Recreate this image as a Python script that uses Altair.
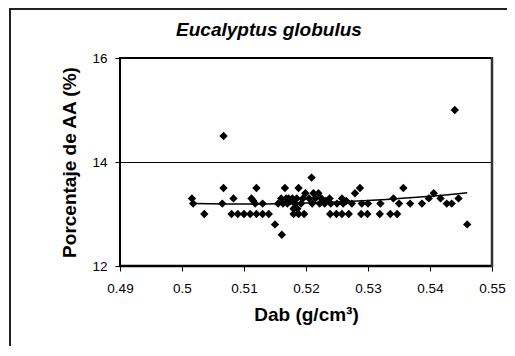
import altair as alt
import pandas as pd

# Scatter data (Dab in g/cm3, Porcentaje de AA in %)
dab = [0.5016, 0.5018, 0.5036, 0.5067, 0.5067, 0.5065, 0.5083, 0.508, 0.509, 0.510,
       0.511, 0.512, 0.513, 0.514, 0.5112, 0.5115, 0.512, 0.5118, 0.513, 0.515,
       0.5161, 0.5166, 0.5155, 0.516, 0.5163, 0.5168, 0.517, 0.5172, 0.5175, 0.5178,
       0.518, 0.5182, 0.5185, 0.5188, 0.5186, 0.5180, 0.5188, 0.5197, 0.5199, 0.5192,
       0.5195, 0.5209, 0.5212, 0.5205, 0.521, 0.5215, 0.522, 0.5222, 0.5225, 0.523,
       0.5232, 0.5238, 0.524, 0.5239, 0.5249, 0.5258, 0.5269, 0.525, 0.5258, 0.526,
       0.5265, 0.5274, 0.5279, 0.5287, 0.529, 0.530, 0.5289, 0.5299, 0.5319, 0.532,
       0.5336, 0.5347, 0.5341, 0.535, 0.5357, 0.5368, 0.5387, 0.5398, 0.5406, 0.5417,
       0.5427, 0.5435, 0.5446, 0.544, 0.546]
aa = [13.3, 13.2, 13.0, 14.5, 13.5, 13.2, 13.3, 13.0, 13.0, 13.0,
      13.0, 13.0, 13.0, 13.0, 13.3, 13.25, 13.5, 13.2, 13.2, 12.8,
      12.6, 13.5, 13.2, 13.3, 13.2, 13.3, 13.2, 13.3, 13.25, 13.3,
      13.1, 13.2, 13.3, 13.5, 13.1, 13.0, 13.0, 13.0, 13.4, 13.2,
      13.3, 13.7, 13.4, 13.3, 13.2, 13.3, 13.4, 13.2, 13.3, 13.2,
      13.25, 13.3, 13.2, 13.0, 13.0, 13.0, 13.0, 13.2, 13.3, 13.2,
      13.25, 13.2, 13.4, 13.5, 13.2, 13.2, 13.0, 13.0, 13.0, 13.2,
      13.0, 13.0, 13.3, 13.2, 13.5, 13.2, 13.2, 13.3, 13.4, 13.3,
      13.2, 13.2, 13.3, 15.0, 12.8]

# Trend line
trend_x = [0.502, 0.510, 0.520, 0.530, 0.540, 0.546]
trend_y = [13.20, 13.19, 13.21, 13.26, 13.34, 13.41]

x_ticks = [0.49, 0.50, 0.51, 0.52, 0.53, 0.54, 0.55]
y_ticks = [12, 14, 16]

title_text = ["Eucalyptus globulus"]

FONT = "Liberation Sans"
W, H = 372, 208

pts = pd.DataFrame({"Dab": dab, "AA": aa})
trend = pd.DataFrame({"Dab": trend_x, "AA": trend_y})
one = pd.DataFrame({"t": title_text})

xs = alt.Scale(domain=[0.49, 0.55], nice=False, zero=False)
ys = alt.Scale(domain=[12, 16], nice=False, zero=False)

x_axis = alt.Axis(values=x_ticks, format=".2~f", title="Dab (g/cm³)", grid=False,
                  labelFont=FONT, labelFontSize=13.5, labelColor="black", labelPadding=10,
                  titleFont=FONT, titleFontSize=19, titleFontWeight="bold", titleColor="black",
                  titlePadding=11, tickColor="black", tickSize=5, tickWidth=1,
                  domain=False, labelFlush=False)
y_axis = alt.Axis(values=y_ticks, format="d", title="Porcentaje de AA (%)", grid=True,
                  gridColor="black", gridWidth=1, gridOpacity=1,
                  labelFont=FONT, labelFontSize=13.5, labelColor="black", labelPadding=8,
                  titleFont=FONT, titleFontSize=19, titleFontWeight="bold", titleColor="black",
                  titlePadding=12, tickColor="black", tickSize=5, tickWidth=1,
                  domain=False, labelFlush=False)

scatter = alt.Chart(pts).mark_point(shape="diamond", filled=True, color="black",
                                     size=70, opacity=1).encode(
    x=alt.X("Dab:Q", scale=xs, axis=x_axis),
    y=alt.Y("AA:Q", scale=ys, axis=y_axis),
)

line = alt.Chart(trend).mark_line(color="black", strokeWidth=1.5, interpolate="monotone").encode(
    x=alt.X("Dab:Q", scale=xs),
    y=alt.Y("AA:Q", scale=ys),
)


def rule(x1, x2, y1, y2, color="black", width=2):
    return alt.Chart(one).mark_rule(color=color, strokeWidth=width, opacity=1).encode(
        x=alt.value(x1), x2=alt.value(x2), y=alt.value(y1), y2=alt.value(y2)
    )


# outer chart-area border (top and left visible in the reference)
outer_top = rule(-111, 510, -49, -49, "#222222", 2)
outer_left = rule(-110, -110, -50, 400, "#222222", 2)
# plot-area frame
f_top = rule(-1, W + 1, 0, 0, "black", 2)
f_bottom = rule(-1, W + 1, H, H, "black", 2.5)
f_left = rule(0, 0, -1, H + 1, "black", 2)
f_right = rule(W, W, -1, H + 1, "#333333", 2.5)

title = alt.Chart(one).mark_text(
    font=FONT, fontSize=19, fontWeight="bold", fontStyle="italic", color="black",
    align="center", baseline="middle"
).encode(text="t:N", x=alt.value(149), y=alt.value(-28))

chart = alt.layer(scatter, line, title, outer_top, outer_left, f_top, f_bottom, f_left,
                  f_right).properties(
    width=W,
    height=H,
    autosize=alt.AutoSizeParams(type="none"),
    padding={"left": 112, "top": 50, "right": 15, "bottom": 80},
).configure_view(strokeWidth=0).configure(background="white")

chart.save("out.html", embed_options={"renderer": "svg", "actions": False})
